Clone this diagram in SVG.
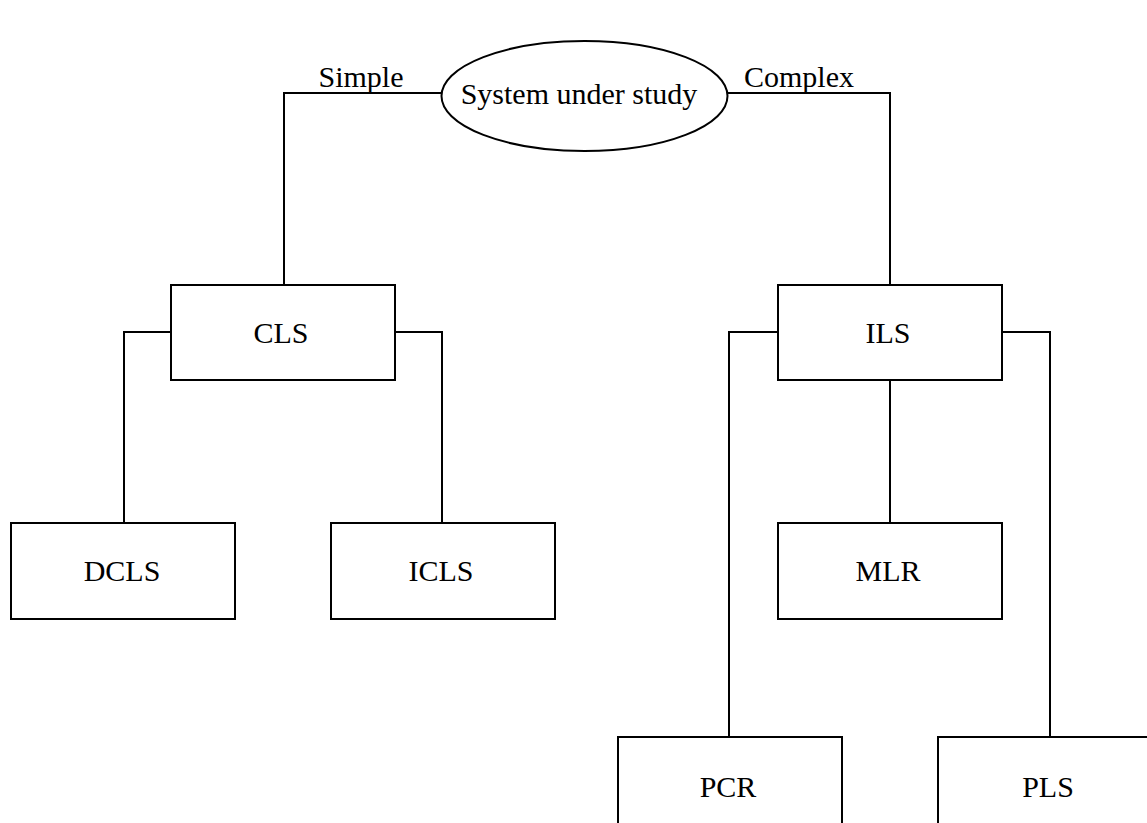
<svg xmlns="http://www.w3.org/2000/svg" width="1147" height="823" viewBox="0 0 1147 823">
<style>
.box{fill:#fff;stroke:#000;stroke-width:2}
.ln{fill:none;stroke:#000;stroke-width:2}
text{font-family:"Liberation Serif","Times New Roman",serif;font-size:30px;fill:#000;text-anchor:middle}
</style>
<rect width="1147" height="823" fill="#fff"/>
<g id="connectors">
<polyline class="ln" points="441,93 284,93 284,285"/>
<polyline class="ln" points="728,93 890,93 890,285"/>
<polyline class="ln" points="171,332 124,332 124,523"/>
<polyline class="ln" points="395,332 442,332 442,523"/>
<polyline class="ln" points="778,332 729,332 729,737"/>
<polyline class="ln" points="1002,332 1050,332 1050,737"/>
<line class="ln" x1="890" y1="380" x2="890" y2="523"/>
<text x="361" y="87">Simple</text>
<text x="799" y="87">Complex</text>
</g>
<g id="system">
<ellipse class="box" cx="584.5" cy="96" rx="143" ry="55"/>
<text x="579" y="104">System under study</text>
</g>
<g id="cls"><rect class="box" x="171" y="285" width="224" height="95"/><text x="281" y="343">CLS</text></g>
<g id="ils"><rect class="box" x="778" y="285" width="224" height="95"/><text x="888" y="343">ILS</text></g>
<g id="dcls"><rect class="box" x="11" y="523" width="224" height="96"/><text x="122" y="581">DCLS</text></g>
<g id="icls"><rect class="box" x="331" y="523" width="224" height="96"/><text x="441" y="581">ICLS</text></g>
<g id="mlr"><rect class="box" x="778" y="523" width="224" height="96"/><text x="888" y="581">MLR</text></g>
<g id="pcr"><rect class="box" x="618" y="737" width="224" height="96"/><text x="728" y="797">PCR</text></g>
<g id="pls"><rect class="box" x="938" y="737" width="224" height="96"/><text x="1048" y="797">PLS</text></g>
</svg>
